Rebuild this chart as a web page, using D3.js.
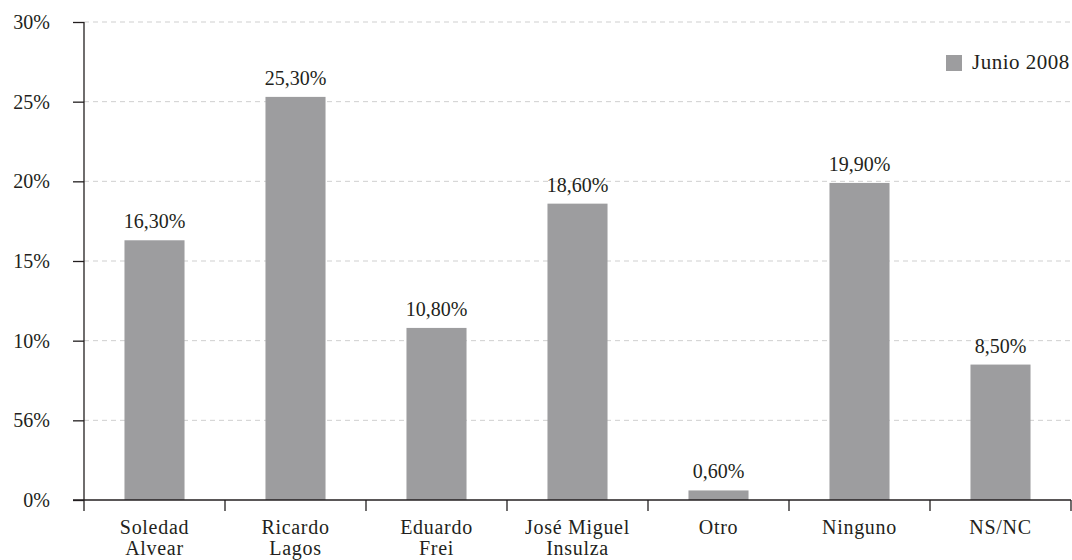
<!DOCTYPE html>
<html>
<head>
<meta charset="utf-8">
<script src="https://cdn.jsdelivr.net/npm/d3@7"></script>
</head>
<body style="margin:0">
<svg id="chart" width="1072" height="560"></svg>
<script>
// Candidate preference, June 2008
const categories = [["Soledad", "Alvear"], ["Ricardo", "Lagos"], ["Eduardo", "Frei"], ["José Miguel", "Insulza"], ["Otro"], ["Ninguno"], ["NS/NC"]];
const values = [16.3, 25.3, 10.8, 18.6, 0.6, 19.9, 8.5];
const valueLabels = ["16,30%", "25,30%", "10,80%", "18,60%", "0,60%", "19,90%", "8,50%"];
const tickValues = [0, 5, 10, 15, 20, 25, 30];
const tickLabels = ["0%", "56%", "10%", "15%", "20%", "25%", "30%"];
const seriesName = "Junio 2008";

const FONT = '"Liberation Serif"';

// make sure the serif face is resolved before any text is laid out
const ctx = document.createElement("canvas").getContext("2d");
ctx.font = `20px ${FONT}, monospace`;
ctx.measureText("Soledad Junio 2008");
document.fonts.check(`20px ${FONT}`);

const svg = d3.select("#chart");
const plotLeft = 84, plotRight = 1071, plotTop = 22, plotBottom = 500;
const barColor = "#9d9d9f";
const textColor = "#231f20";

const keys = categories.map(c => c.join(" "));
const x = d3.scaleBand().domain(keys).range([plotLeft, plotRight]).paddingInner(0.574).paddingOuter(0.287);
const y = d3.scaleLinear().domain([0, 30]).range([plotBottom, plotTop]);

// dashed gridlines
svg.append("g")
  .selectAll("line")
  .data(tickValues.filter(v => v > 0))
  .join("line")
  .attr("x1", plotLeft).attr("x2", plotRight)
  .attr("y1", d => y(d)).attr("y2", d => y(d))
  .attr("stroke", "#cfcfcf")
  .attr("stroke-width", 1)
  .attr("stroke-dasharray", "5,4");

// bars
svg.append("g")
  .selectAll("rect")
  .data(values)
  .join("rect")
  .attr("x", (d, i) => x(keys[i]))
  .attr("width", x.bandwidth())
  .attr("y", d => y(d))
  .attr("height", d => y(0) - y(d))
  .attr("fill", barColor);

// value labels
svg.selectAll("text.value")
  .data(values)
  .join("text")
  .attr("class", "value")
  .attr("x", (d, i) => x(keys[i]) + x.bandwidth() / 2)
  .attr("y", d => y(d) - 12)
  .attr("text-anchor", "middle")
  .attr("font-size", 20)
  .style("font-family", FONT)
  .attr("fill", textColor)
  .text((d, i) => valueLabels[i]);

// y axis: ticks from the axis generator, labels as plain texts
const yAxis = d3.axisLeft(y).tickValues(tickValues).tickFormat("").tickSize(11);
const gy = svg.append("g").attr("transform", `translate(${plotLeft},0)`).call(yAxis);
gy.select(".domain").remove();
gy.selectAll(".tick line").attr("stroke", "#231f20").attr("stroke-width", 1.3);
svg.selectAll("text.ylab")
  .data(tickValues)
  .join("text")
  .attr("class", "ylab")
  .attr("x", plotLeft - 34)
  .attr("y", d => y(d) + 7)
  .attr("text-anchor", "end")
  .attr("font-size", 20)
  .style("font-family", FONT)
  .attr("fill", textColor)
  .text((d, i) => tickLabels[i]);
svg.append("line")
  .attr("x1", plotLeft).attr("x2", plotLeft)
  .attr("y1", y(30)).attr("y2", y(0))
  .attr("stroke", "#231f20").attr("stroke-width", 1.3);

// x axis: baseline with ticks at category boundaries
svg.append("line")
  .attr("x1", plotLeft - 11).attr("x2", plotRight)
  .attr("y1", y(0)).attr("y2", y(0))
  .attr("stroke", "#231f20").attr("stroke-width", 1.3);
const step = x.step();
const boundaries = keys.map((k, i) => x(k) - x.paddingOuter() * step + step).concat([plotLeft]);
svg.selectAll("line.xtick")
  .data(boundaries)
  .join("line")
  .attr("class", "xtick")
  .attr("x1", d => d).attr("x2", d => d)
  .attr("y1", y(0)).attr("y2", y(0) + 11)
  .attr("stroke", "#231f20").attr("stroke-width", 1.3);

// category labels, one text per line
const lines = [];
categories.forEach((c, i) => c.forEach((t, j) => lines.push({ t, i, j })));
svg.selectAll("text.cat")
  .data(lines)
  .join("text")
  .attr("class", "cat")
  .attr("x", d => x(keys[d.i]) + x.bandwidth() / 2)
  .attr("y", d => 534 + d.j * 21)
  .attr("text-anchor", "middle")
  .attr("font-size", 20)
  .attr("letter-spacing", 0.7)
  .style("font-family", FONT)
  .attr("fill", textColor)
  .text(d => d.t);

// legend
svg.append("rect")
  .attr("x", 946).attr("y", 55)
  .attr("width", 16).attr("height", 16).attr("fill", barColor);
svg.append("text")
  .attr("x", 972).attr("y", 69)
  .attr("font-size", 21)
  .attr("letter-spacing", 0.5)
  .style("font-family", FONT)
  .attr("fill", textColor)
  .text(seriesName);
</script>
</body>
</html>
